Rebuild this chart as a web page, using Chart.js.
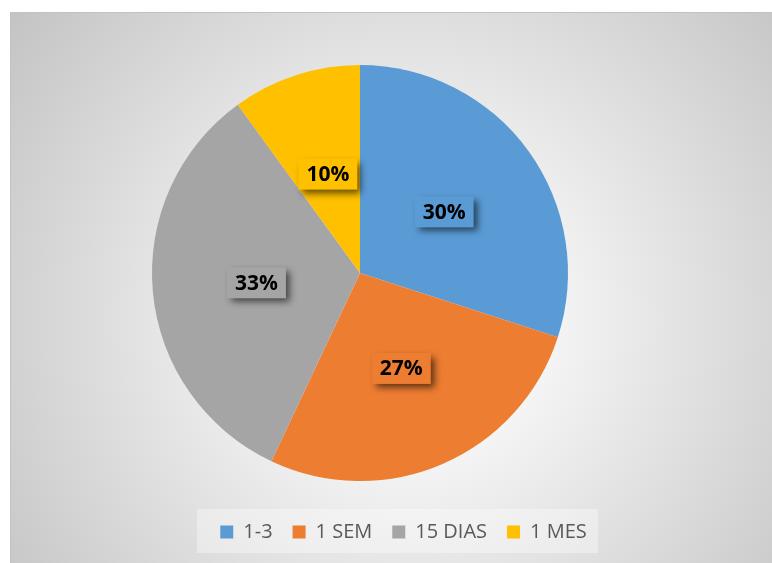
<!DOCTYPE html>
<html>
<head>
<meta charset="utf-8">
<script src="https://cdn.jsdelivr.net/npm/chart.js@4"></script>
<style>
  html, body { margin: 0; padding: 0; background: #fff; }
  #wrap { width: 772px; height: 563px; }
</style>
</head>
<body>
<div id="wrap"><canvas id="pieChart"></canvas></div>
<script>
// data
const categories = ['1-3', '1 SEM', '15 DIAS', '1 MES'];
const shares = [30, 27, 33, 10];
const sliceColors = ['#5B9BD5', '#ED7D31', '#A5A5A5', '#FFC000'];

Chart.defaults.font.family = "'Open Sans', 'Liberation Sans', sans-serif";

// grey radial background + legend panel
const framePlugin = {
  id: 'frame',
  beforeDraw(chart) {
    const ctx = chart.ctx;
    ctx.save();
    ctx.fillStyle = '#ffffff';
    ctx.fillRect(0, 0, chart.width, chart.height);
    const g = ctx.createRadialGradient(410, 320, 0, 410, 320, 500);
    g.addColorStop(0, '#ffffff');
    g.addColorStop(0.15, '#fdfdfd');
    g.addColorStop(1, '#c4c4c4');
    ctx.fillStyle = g;
    ctx.fillRect(10, 13, chart.width - 10, chart.height - 13);
    ctx.strokeStyle = '#c2c2c2';
    ctx.lineWidth = 1;
    ctx.strokeRect(10.5, 12.5, chart.width, chart.height);

    ctx.fillStyle = 'rgba(255,255,255,0.35)';
    ctx.fillRect(197, 509, 401, 44);
    ctx.restore();
  }
};

// place the pie and legend like the spreadsheet layout
const placePlugin = {
  id: 'place',
  afterLayout(chart) {
    const a = chart.chartArea;
    a.left = 152; a.right = 568; a.top = 65; a.bottom = 481;
    a.width = a.right - a.left; a.height = a.bottom - a.top;
    const lg = chart.legend;
    lg.left = 103; lg.right = 704; lg.width = lg.right - lg.left;
    lg.top = 502; lg.bottom = 553; lg.height = lg.bottom - lg.top;
  }
};

// percentage labels in shadowed boxes
const labelPlugin = {
  id: 'sliceLabels',
  afterDatasetsDraw(chart) {
    const ctx = chart.ctx;
    const meta = chart.getDatasetMeta(0);
    const total = shares.reduce((s, v) => s + v, 0);
    ctx.save();
    ctx.font = "bold 21px 'Open Sans', 'Liberation Sans', sans-serif";
    ctx.textAlign = 'center';
    ctx.textBaseline = 'middle';
    meta.data.forEach((arc, i) => {
      const p = arc.tooltipPosition();
      const txt = Math.round(shares[i] / total * 100) + '%';
      const w = ctx.measureText(txt).width + 16;
      const h = 31;
      ctx.save();
      ctx.shadowColor = 'rgba(0,0,0,0.6)';
      ctx.shadowBlur = 7;
      ctx.shadowOffsetX = 4;
      ctx.shadowOffsetY = 4;
      ctx.fillStyle = sliceColors[i];
      ctx.fillRect(p.x - w / 2, p.y - h / 2, w, h);
      ctx.restore();
      ctx.fillStyle = '#000000';
      ctx.fillText(txt, p.x, p.y + 1);
    });
    ctx.restore();
  }
};

new Chart(document.getElementById('pieChart'), {
  type: 'pie',
  data: {
    labels: categories,
    datasets: [{
      data: shares,
      backgroundColor: sliceColors,
      borderWidth: 0
    }]
  },
  options: {
    responsive: true,
    maintainAspectRatio: false,
    animation: false,
    plugins: {
      legend: {
        position: 'bottom',
        labels: {
          boxWidth: 13,
          boxHeight: 13,
          padding: 20,
          color: '#595959',
          font: { size: 20 }
        }
      },
      tooltip: { enabled: false }
    }
  },
  plugins: [framePlugin, placePlugin, labelPlugin]
});
</script>
</body>
</html>
